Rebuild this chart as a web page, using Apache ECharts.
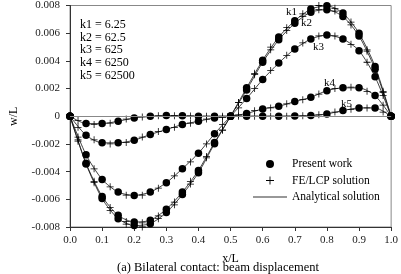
<!DOCTYPE html>
<html><head><meta charset="utf-8">
<script src="https://cdn.jsdelivr.net/npm/echarts@6/dist/echarts.min.js"></script>
<style>html,body{margin:0;padding:0;background:#fff}#c{width:401px;height:274px}</style>
</head><body><div id="c"></div>
<script>
// x/L positions of present-work points and FE/LCP points
const xPresent = [0,0.05,0.1,0.15,0.2,0.25,0.3,0.35,0.4,0.45,0.5,0.55,0.6,0.65,0.7,0.75,0.8,0.85,0.9,0.95,1.0];
const xFE = [0.025,0.075,0.125,0.175,0.225,0.275,0.325,0.375,0.425,0.475,0.525,0.575,0.625,0.675,0.725,0.775,0.825,0.875,0.925,0.975];

// Present work (w/L)
const k1Present = [0,-0.00345,-0.00595,-0.0074,-0.0079,-0.00776,-0.00696,-0.00566,-0.00408,-0.00198,0,0.00205,0.00405,0.00572,0.0069,0.00774,0.00798,0.00745,0.006,0.0036,0];
const k2Present = [0,-0.0034,-0.00579,-0.00716,-0.00764,-0.00752,-0.00672,-0.00548,-0.00391,-0.0019,0,0.0019,0.0039,0.00552,0.00672,0.00752,0.0077,0.0072,0.0058,0.0034,0];
const k3Present = [0,-0.00278,-0.00456,-0.00548,-0.00572,-0.00548,-0.0048,-0.00379,-0.00267,-0.00127,0,0.00128,0.00265,0.00385,0.00486,0.00558,0.00587,0.00558,0.00474,0.00285,0];
const k4Present = [0,-0.00137,-0.00192,-0.00192,-0.00173,-0.00132,-0.00096,-0.0006,-0.00036,-0.00012,0,0.0002,0.00053,0.00072,0.00106,0.00137,0.00185,0.00205,0.00205,0.00149,0];
const k5Present = [0,-0.00053,-0.00053,-0.00036,-0.00012,0,0.00005,0.00003,0,0,0,0,0,0,0.00002,0.00005,0.00017,0.00041,0.0006,0.0006,0];

// FE/LCP solution (w/L)
const k1FE = [-0.0018,-0.0048,-0.0068,-0.0078,-0.008,-0.0074,-0.0064,-0.0049,-0.003,-0.001,0.001,0.0031,0.005,0.0064,0.0074,0.008,0.0078,0.0068,0.0048,0.0018];
const k2FE = [-0.0017,-0.0047,-0.0066,-0.0076,-0.0077,-0.0072,-0.0062,-0.0047,-0.0029,-0.001,0.001,0.003,0.0048,0.0062,0.0072,0.0077,0.0076,0.0066,0.0047,0.0017];
const k3FE = [-0.0015,-0.0038,-0.0051,-0.0057,-0.0057,-0.0052,-0.0043,-0.0033,-0.002,-0.0006,0.0006,0.002,0.0033,0.0044,0.0053,0.0058,0.0058,0.0052,0.0039,0.0015];
const k4FE = [-0.0008,-0.0017,-0.002,-0.0019,-0.0015,-0.0011,-0.0008,-0.0005,-0.0002,-0.0001,0.0001,0.0004,0.0006,0.0009,0.0012,0.0016,0.002,0.0021,0.0018,0.0008];
const k5FE = [-0.0003,-0.0006,-0.0005,-0.0002,-0.00005,0.00003,0.00004,0.00002,0,0,0,0,0,0,0.00003,0.0001,0.0003,0.0005,0.0006,0.0003];

const curveLabels = ['k1','k2','k3','k4','k5'];
const stiffnessText = ['k1 = 6.25','k2 = 62.5','k3 = 625','k4 = 6250','k5 = 62500'];

const presents = [k1Present,k2Present,k3Present,k4Present,k5Present];
const fes = [k1FE,k2FE,k3FE,k4FE,k5FE];
const pair = (xs, ys) => xs.map((x,i)=>[x, ys[i]]);
const FONT = 'Liberation Serif';
const plusPath = 'path://M4.45,0h1.1v10h-1.1z M0,4.45h10v1.1h-10z';
const linePath = 'path://M0,0h100v2.6h-100z';

const series = [];
presents.forEach((p,i)=>{
  series.push({name:'Analytical solution', type:'line', data:pair(xPresent,p), showSymbol:false, symbol:'none', smooth:0.25,
    lineStyle:{color:'#111', width:0.8}, itemStyle:{color:'#333'}, z:2, silent:true,
    markLine: i===0 ? {silent:true, symbol:'none', label:{show:false}, lineStyle:{color:'#888', width:1, type:'solid'}, data:[{yAxis:0}]} : undefined});
});
presents.forEach((p)=>{
  series.push({name:'Present work', type:'scatter', data:pair(xPresent,p), symbol:'circle', symbolSize:7.5,
    itemStyle:{color:'#000', opacity:1}, z:4});
});
fes.forEach((f)=>{
  series.push({name:'FE/LCP solution', type:'scatter', data:pair(xFE,f), symbol:plusPath, symbolSize:7,
    itemStyle:{color:'#000', opacity:1}, z:3});
});

const graphics = [];
stiffnessText.forEach((t,i)=>{
  graphics.push({type:'text', left:80, top:18.5+i*12.9, style:{text:t, font:'12px '+FONT, fill:'#000'}});
});
const lblPos = [[286,6],[301,17],[313,41],[324,77],[341,98]];
curveLabels.forEach((t,i)=>{
  graphics.push({type:'text', left:lblPos[i][0], top:lblPos[i][1]+1, style:{text:t, font:'11px '+FONT, fill:'#000'}});
});

const chart = echarts.init(document.getElementById('c'), null, {renderer:'canvas'});
chart.setOption({
  animation:false,
  backgroundColor:'#fff',
  grid:{left:62, right:7, top:5, bottom:47, show:true, borderColor:'#888', borderWidth:1},
  title:{text:'(a) Bilateral contact: beam displacement', left:117, top:261, padding:0,
    textStyle:{fontFamily:FONT, fontSize:12.5, fontWeight:'normal', color:'#000'}},
  legend:{orient:'vertical', left:253, top:158, padding:0, itemWidth:34, itemHeight:8, itemGap:4.5,
    textStyle:{fontFamily:FONT, fontSize:11.5, color:'#000'},
    data:[{name:'Present work', icon:'circle', itemStyle:{color:'#000'}},
          {name:'FE/LCP solution', icon:plusPath, itemStyle:{color:'#000'}},
          {name:'Analytical solution', icon:linePath, itemStyle:{color:'#333'}}],
    selectedMode:false},
  xAxis:{type:'value', min:0, max:1, interval:0.1,
    name:'x/L', nameLocation:'middle', nameGap:26, nameTextStyle:{fontFamily:FONT, fontSize:12, color:'#000'},
    axisLine:{onZero:false, lineStyle:{color:'#333', width:1}},
    axisTick:{show:true, length:4, lineStyle:{color:'#333'}},
    axisLabel:{fontFamily:FONT, fontSize:11, color:'#222', margin:8, formatter:v=>v.toFixed(1)},
    splitLine:{show:false}},
  yAxis:{type:'value', min:-0.008, max:0.008, interval:0.002,
    name:'w/L', nameLocation:'middle', nameGap:50, nameTextStyle:{fontFamily:FONT, fontSize:12, color:'#000'},
    axisLine:{show:true, lineStyle:{color:'#333', width:1}},
    axisTick:{show:true, length:4, lineStyle:{color:'#333'}},
    axisLabel:{fontFamily:FONT, fontSize:11, color:'#222', margin:10, formatter:v=>v===0?'0':v.toFixed(3)},
    splitLine:{show:false}},
  graphic:graphics,
  series:series
});
</script></body></html>
